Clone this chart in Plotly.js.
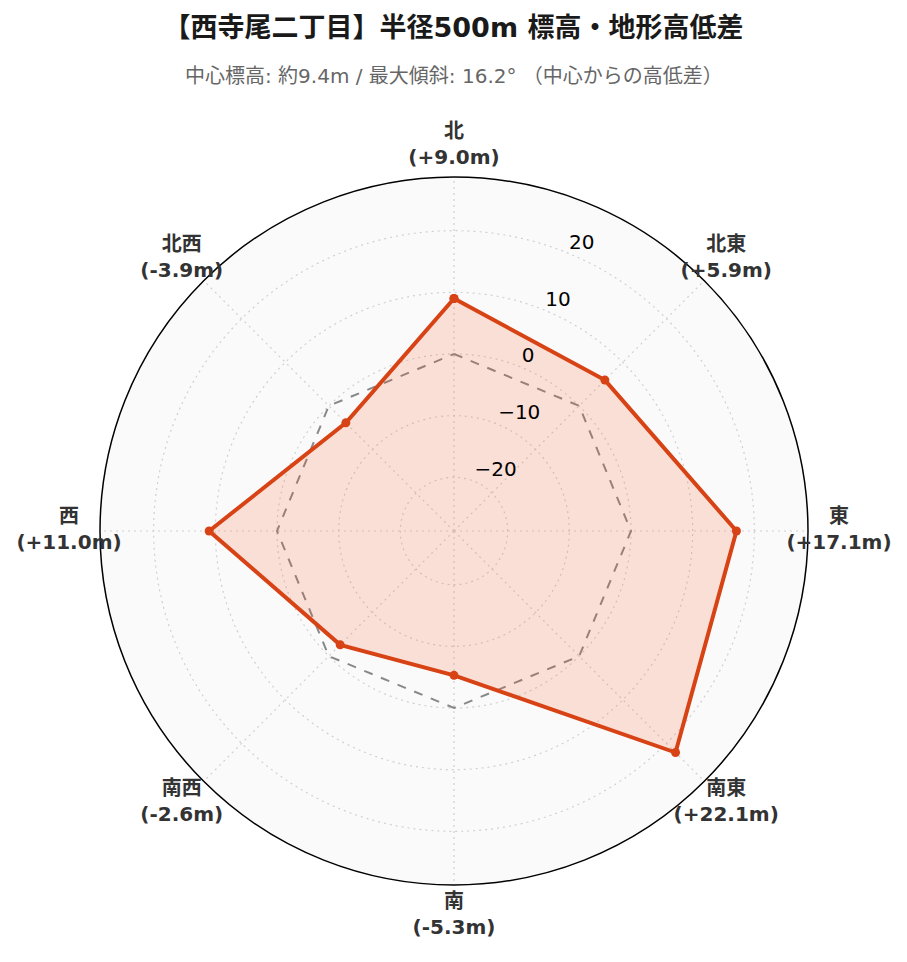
<!DOCTYPE html>
<html>
<head>
<meta charset="utf-8">
<script src="https://cdn.plot.ly/plotly-3.0.1.min.js"></script>
<style>html,body{margin:0;padding:0;background:#fff;}#chart{width:907px;height:962px;}</style>
</head>
<body>
<div id="chart"></div>
<script>
const directions = ["北", "北東", "東", "南東", "南", "南西", "西", "北西"];
const angles = [0, 45, 90, 135, 180, 225, 270, 315];
const diffs = [9.0, 5.9, 17.1, 22.1, -5.3, -2.6, 11.0, -3.9];
const baseline = [0, 0, 0, 0, 0, 0, 0, 0];
const radialRange = [-28.7, 28.7];
const radialTicks = [-20, -10, 0, 10, 20];
const radialTickAngle = 22.5;

const FONT = "DejaVu Sans, Noto Sans CJK JP, sans-serif";
const W = 907, H = 962;
const fmt = v => (v >= 0 ? "+" : "") + v.toFixed(1) + "m";
const labels = directions.map((d, i) => "<b>" + d + "<br>(" + fmt(diffs[i]) + ")</b>");
const close = a => a.concat([a[0]]);

// polar geometry (pixels)
const cx = 454, cy = 531, R = 354, RL = 400;
const dom = (rad) => ({
  x: [(cx - rad) / W, (cx + rad) / W],
  y: [(H - cy - rad) / H, (H - cy + rad) / H]
});

const traces = [
  {
    type: "scatterpolar",
    subplot: "polar",
    r: close(baseline),
    theta: close(angles),
    mode: "lines",
    line: {color: "#888888", width: 2, dash: "dash"},
    hoverinfo: "skip",
    showlegend: false
  },
  {
    type: "scatterpolar",
    subplot: "polar",
    r: close(diffs),
    theta: close(angles),
    mode: "lines+markers",
    fill: "toself",
    fillcolor: "rgba(255,87,34,0.16)",
    line: {color: "#D84315", width: 4},
    marker: {color: "#D84315", size: 9},
    showlegend: false
  },
  {
    type: "scatterpolar",
    subplot: "polar",
    r: radialTicks,
    theta: radialTicks.map(() => radialTickAngle),
    mode: "text",
    text: radialTicks.map(v => v < 0 ? "−" + Math.abs(v) : String(v)),
    textposition: "top right",
    textfont: {family: FONT, size: 20, color: "#000000"},
    cliponaxis: false,
    hoverinfo: "skip",
    showlegend: false
  },
  {
    type: "scatterpolar",
    subplot: "polar2",
    r: angles.map(() => 385 / RL),
    theta: angles,
    mode: "text",
    text: labels,
    textposition: "middle center",
    textfont: {family: FONT, size: 20, color: "#333333"},
    cliponaxis: false,
    hoverinfo: "skip",
    showlegend: false
  }
];

const layout = {
  width: W,
  height: H,
  paper_bgcolor: "#ffffff",
  margin: {l: 0, r: 0, t: 0, b: 0},
  font: {family: FONT},
  title: {
    text: "<b>【西寺尾二丁目】半径500m 標高・地形高低差</b>",
    font: {family: FONT, size: 27, color: "#1a1a1a"},
    x: 0.5, xanchor: "center",
    y: 1 - 28 / H, yanchor: "middle"
  },
  annotations: [{
    text: "中心標高: 約9.4m / 最大傾斜: 16.2° （中心からの高低差）",
    xref: "paper", yref: "paper",
    x: 0.5, xanchor: "center",
    y: 1 - 76 / H, yanchor: "middle",
    showarrow: false,
    font: {family: FONT, size: 20, color: "#666666"}
  }],
  polar: {
    domain: dom(R),
    bgcolor: "#fafafa",
    angularaxis: {
      type: "linear",
      thetaunit: "degrees",
      rotation: 90,
      direction: "clockwise",
      tickvals: angles,
      showline: true,
      linecolor: "#000000",
      linewidth: 1.5,
      gridcolor: "#d0d0d0",
      griddash: "2px,4px",
      gridwidth: 1.2,
      ticks: "",
      showticklabels: false
    },
    radialaxis: {
      range: radialRange,
      tickvals: radialTicks,
      showticklabels: false,
      showline: false,
      ticks: "",
      gridcolor: "#d0d0d0",
      griddash: "2px,4px",
      gridwidth: 1.2
    }
  },
  polar2: {
    domain: dom(RL),
    bgcolor: "rgba(0,0,0,0)",
    angularaxis: {
      type: "linear",
      thetaunit: "degrees",
      rotation: 90,
      direction: "clockwise",
      showline: false,
      showgrid: false,
      ticks: "",
      showticklabels: false
    },
    radialaxis: {
      range: [0, 1],
      visible: false,
      showgrid: false
    }
  }
};

Plotly.newPlot("chart", traces, layout, {displayModeBar: false, staticPlot: true});
</script>
</body>
</html>
